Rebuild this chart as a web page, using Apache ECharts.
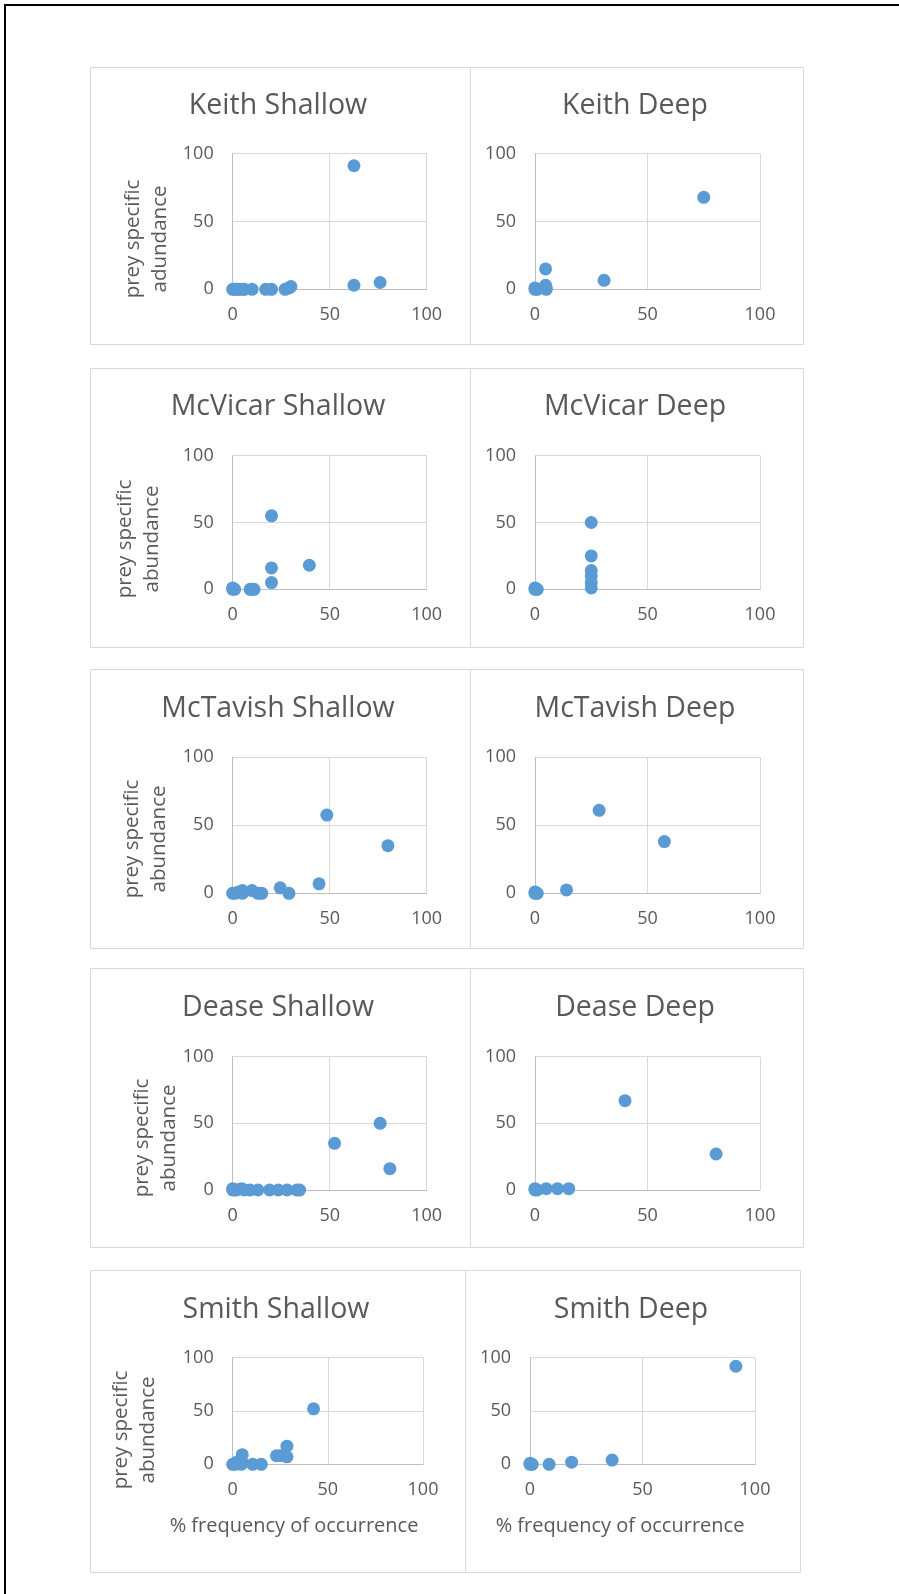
<!DOCTYPE html>
<html>
<head>
<meta charset="utf-8">
<title>prey specific abundance vs % frequency of occurrence</title>
<script src="https://cdn.jsdelivr.net/npm/echarts@6/dist/echarts.min.js"></script>
<style>
  html, body { margin: 0; padding: 0; background: #fff; }
  #chart { width: 899px; height: 1594px; }
</style>
</head>
<body>
<div id="chart"></div>
<script>
// panel names, in reading order (left = Shallow, right = Deep)
const panelNames = [
  'Keith Shallow', 'Keith Deep',
  'McVicar Shallow', 'McVicar Deep',
  'McTavish Shallow', 'McTavish Deep',
  'Dease Shallow', 'Dease Deep',
  'Smith Shallow', 'Smith Deep'
]
const yTitles = [
  'prey specific\nadundance', null,
  'prey specific\nabundance', null,
  'prey specific\nabundance', null,
  'prey specific\nabundance', null,
  'prey specific\nabundance', null
]
const xTitle = '% frequency of occurrence'
const xTicks = [0, 50, 100]
const yTicks = [0, 50, 100]

// [% frequency of occurrence, prey specific abundance]
const keithShallow = [[0, 0], [1, 0], [2, 0], [3, 0], [5, 0], [6, 0], [10, 0], [17, 0], [20, 0], [27, 0], [29, 1], [30, 2], [62.5, 91], [62.5, 3], [76, 5]]
const keithDeep = [[0, 0], [0, 1], [1, 0], [4.7, 15], [4.7, 3], [5, 1], [5, 0], [30.7, 6.6], [75, 67.7]]
const mcvicarShallow = [[0, 0], [0, 1], [1, 0], [9, 0], [10, 0], [11, 0], [20, 55], [20, 16], [20, 5], [39.5, 18]]
const mcvicarDeep = [[0, 0], [1, 0], [0, 1], [25, 50], [25, 25], [25, 14], [25, 10], [25, 5], [25, 1]]
const mctavishShallow = [[0, 0], [1, 0], [3, 1], [5, 2], [5, 0], [10, 2], [13, 0], [15, 0], [24.5, 4], [29, 0], [44.5, 7], [48.5, 57.5], [80, 35]]
const mctavishDeep = [[0, 0], [0, 1], [1, 0], [14, 2.5], [28.5, 61], [57.5, 38]]
const deaseShallow = [[0, 0], [0, 1], [1, 0], [2, 0], [4.5, 1], [6, 0], [9, 0], [13, 0], [19, 0], [23.5, 0], [28, 0], [33, 0], [34.5, 0], [52.5, 35], [76, 50], [81, 16]]
const deaseDeep = [[0, 0], [0, 1], [1, 0], [5, 1], [10, 1], [15, 1], [40, 67], [80.5, 27]]
const smithShallow = [[0, 0], [1, 0], [2, 2], [4.5, 0], [5, 9], [5, 2], [10.5, 0], [15, 0], [23, 8], [25, 8], [28.5, 17], [28.5, 7], [42.5, 52]]
const smithDeep = [[0, 0], [0, 1], [1, 0], [8.5, 0], [18.5, 2], [36.5, 4], [91.5, 92]]

const panelData = [
  keithShallow, keithDeep,
  mcvicarShallow, mcvicarDeep,
  mctavishShallow, mctavishDeep,
  deaseShallow, deaseDeep,
  smithShallow, smithDeep
]

// layout, per row
const boxTop = [67, 368, 669, 968, 1270]
const boxBottom = [344, 647, 948, 1247, 1572]
const plotTop = [153.5, 455.7, 757.3, 1056.7, 1357.7]
const plotBottom = [289.3, 589.3, 893.3, 1190, 1464.3]
const titleY = [106, 406.7, 708.5, 1008.3, 1310]
const yTitleX = [147, 138.5, 146, 156, 135]
const yTitleY = [239, 539, 839, 1138, 1430]

const FONT = '"Open Sans", "DejaVu Sans", sans-serif'
const TEXT = '#595959'

function colLayout(row, col) {
  const last = row === 4
  if (col === 0) {
    return { bx0: 90, bx1: last ? 465 : 470, gx0: 232.7, gx1: last ? 423 : 426.7, tx: last ? 276 : 278, xtx: 294 }
  }
  return { bx0: last ? 465 : 470, bx1: last ? 800 : 803, gx0: last ? 530 : 535, gx1: last ? 755 : 760, tx: last ? 631 : 635, xtx: 620 }
}

const grids = [], xAxes = [], yAxes = [], series = [], titles = [], graphics = []

panelData.forEach((data, i) => {
  const row = Math.floor(i / 2), col = i % 2
  const L = colLayout(row, col)

  graphics.push({
    type: 'rect', silent: true, z: 0,
    shape: { x: L.bx0 + 0.5, y: boxTop[row] + 0.5, width: L.bx1 - L.bx0, height: boxBottom[row] - boxTop[row] },
    style: { fill: 'none', stroke: '#d9d9d9', lineWidth: 1 }
  })

  grids.push({
    left: L.gx0, top: plotTop[row],
    width: L.gx1 - L.gx0, height: plotBottom[row] - plotTop[row]
  })

  xAxes.push({
    gridIndex: i, type: 'value',
    min: xTicks[0], max: xTicks[xTicks.length - 1], interval: xTicks[1] - xTicks[0],
    axisLine: { show: true, onZero: false, lineStyle: { color: '#bfbfbf' } },
    axisTick: { show: false },
    splitLine: { show: true, lineStyle: { color: '#d9d9d9' } },
    axisLabel: { color: TEXT, fontSize: 18, margin: 17, fontFamily: FONT }
  })
  yAxes.push({
    gridIndex: i, type: 'value',
    min: yTicks[0], max: yTicks[yTicks.length - 1], interval: yTicks[1] - yTicks[0],
    axisLine: { show: true, onZero: false, lineStyle: { color: '#bfbfbf' } },
    axisTick: { show: false },
    splitLine: { show: true, lineStyle: { color: '#d9d9d9' } },
    axisLabel: { color: TEXT, fontSize: 18, margin: 19, fontFamily: FONT }
  })

  series.push({
    name: panelNames[i], type: 'scatter',
    xAxisIndex: i, yAxisIndex: i,
    symbolSize: 13,
    itemStyle: { color: '#5b9bd5', opacity: 1 },
    data: data
  })

  titles.push({
    text: panelNames[i],
    left: L.tx, top: titleY[row],
    textAlign: 'center', textVerticalAlign: 'middle',
    padding: 0,
    textStyle: { fontSize: 28.5, fontWeight: 'normal', color: TEXT, fontFamily: FONT }
  })

  if (yTitles[i]) {
    graphics.push({
      type: 'text', silent: true,
      x: yTitleX[row], y: yTitleY[row], rotation: Math.PI / 2,
      style: {
        text: yTitles[i], fill: TEXT, fontSize: 20.5, fontFamily: FONT,
        lineHeight: 27, align: 'center', verticalAlign: 'middle'
      }
    })
  }
  if (row === 4) {
    graphics.push({
      type: 'text', silent: true,
      x: L.xtx, y: 1526.7,
      style: {
        text: xTitle, fill: TEXT, fontSize: 20, fontFamily: FONT,
        align: 'center', verticalAlign: 'middle'
      }
    })
  }
})

// outer black frame (top and left edges)
graphics.push({ type: 'line', silent: true, shape: { x1: 4, y1: 5, x2: 899, y2: 5 }, style: { stroke: '#000', lineWidth: 2 } })
graphics.push({ type: 'line', silent: true, shape: { x1: 5, y1: 4, x2: 5, y2: 1594 }, style: { stroke: '#000', lineWidth: 2 } })

const myChart = echarts.init(document.getElementById('chart'), null, { renderer: 'canvas' })
myChart.setOption({
  backgroundColor: '#fff',
  animation: false,
  title: titles,
  grid: grids,
  xAxis: xAxes,
  yAxis: yAxes,
  series: series,
  graphic: graphics
})
</script>
</body>
</html>
